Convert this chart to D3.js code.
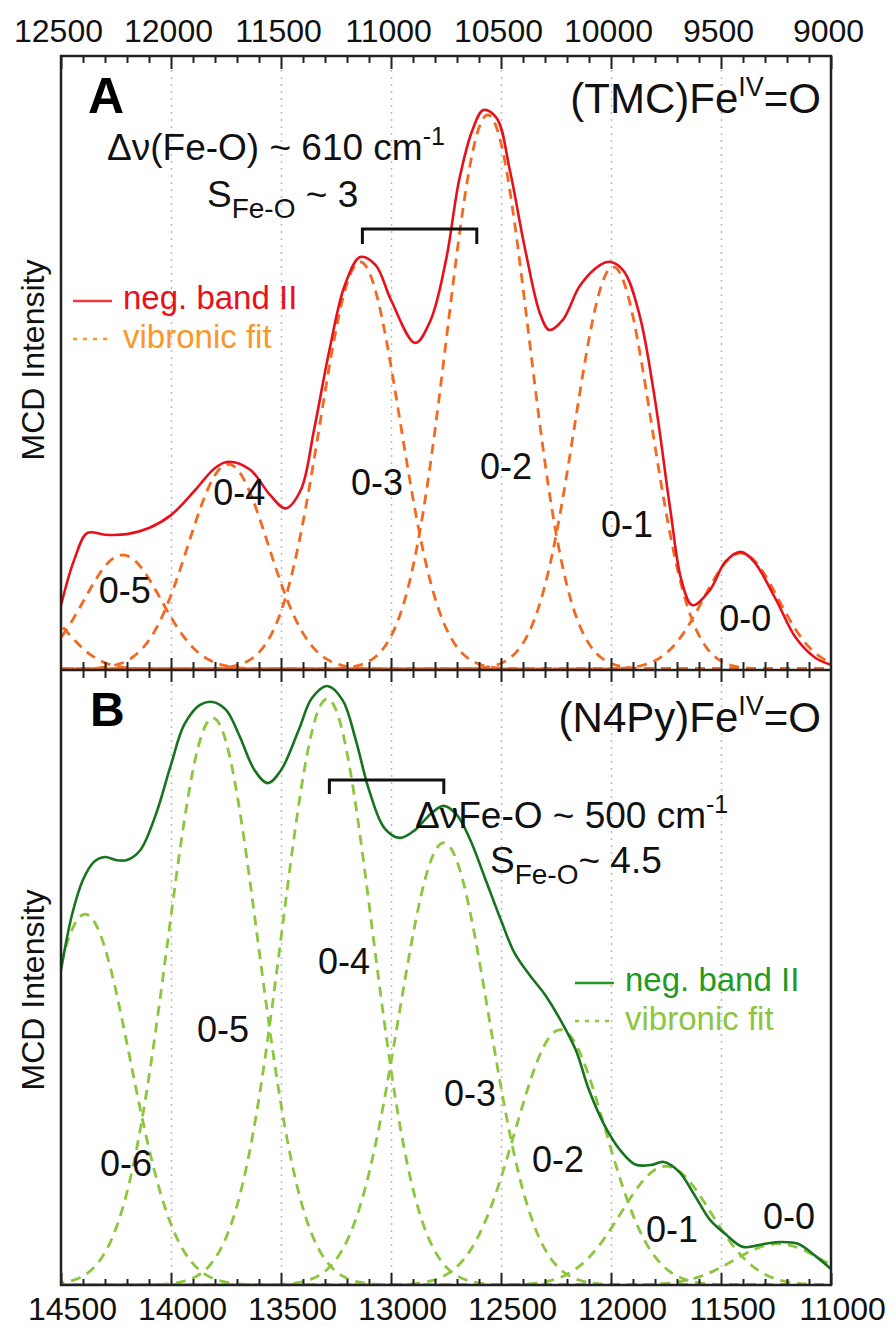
<!DOCTYPE html>
<html lang="en">
<head>
<meta charset="utf-8">
<title>MCD band II vibronic fits</title>
<style>
  body { margin: 0; background: #fff; }
  svg { display: block; font-family: "Liberation Sans", Arial, sans-serif; }
  .grid line { stroke: #bdbdbd; stroke-width: 1.5; stroke-dasharray: 2,5; }
  .grid path, .ticks path { display: none; }
  .ticks line { stroke: #222; stroke-width: 2; }
  .ticks text { font-size: 32px; fill: #111; font-family: "Liberation Sans", Arial, sans-serif; }
  .frame { fill: none; stroke: #222; stroke-width: 2.5; }
  .peak { font-size: 36px; fill: #111; text-anchor: middle; }
  .note { font-size: 37px; fill: #111; }
  .ylab { font-size: 32px; fill: #111; text-anchor: middle; }
  .legend { font-size: 33px; }
</style>
<script src="https://cdn.jsdelivr.net/npm/d3@7"></script>
</head>
<body>
<div id="chart"></div>
<script>

// ---- panel A : (TMC)Fe(IV)=O, negative band II ----
var aWavenumber = [12500, 12440, 12380, 12300, 12200, 12100, 12000, 11890, 11800, 11740,
                   11640, 11550, 11480, 11410, 11350, 11280, 11210, 11140, 11070, 11000,
                   10890, 10820, 10750, 10690, 10630, 10580, 10520, 10460, 10390, 10320,
                   10280, 10220, 10140, 10050, 10000, 9940, 9870, 9800, 9730, 9680,
                   9630, 9550, 9480, 9410, 9350, 9250, 9160, 9070, 9000];
var aBand = [10.4, 17.8, 22.2, 21.9, 22.0, 23.0, 25.1, 29.2, 32.8, 33.8,
             32.5, 28.4, 26.2, 29.2, 39.0, 52.0, 62.6, 67.2, 65.9, 60.2,
             53.2, 56.9, 66.7, 79.8, 87.9, 91.2, 89.9, 81.4, 68.4, 57.7,
             55.3, 56.9, 62.6, 65.9, 66.4, 64.8, 57.7, 43.9, 25.9, 14.5,
             10.4, 12.9, 17.5, 19.1, 17.5, 11.3, 5.1, 1.8, 0.7];

// vibronic fit components (gaussian centre, height, width in cm-1)
var aFitName   = ['0-6', '0-5', '0-4', '0-3', '0-2', '0-1', '0-0'];
var aFitCenter = [12620, 12220, 11740, 11140, 10560, 9990, 9410];
var aFitHeight = [9.8, 18.6, 33.4, 66.4, 90.4, 65.6, 18.9];
var aFitWidth  = [150, 175, 182, 182, 185, 175, 170];
var aLabels    = ['0-5', '0-4', '0-3', '0-2', '0-1', '0-0'];
var aTicks     = [12500, 12000, 11500, 11000, 10500, 10000, 9500, 9000];

// ---- panel B : (N4Py)Fe(IV)=O ----
var bWavenumber = [14500, 14450, 14400, 14350, 14300, 14250, 14200, 14140, 14070, 14000,
                   13940, 13870, 13810, 13750, 13690, 13620, 13560, 13500, 13420, 13360,
                   13290, 13220, 13160, 13100, 13030, 12960, 12890, 12820, 12760, 12700,
                   12640, 12570, 12500, 12440, 12370, 12300, 12230, 12160, 12100, 12030,
                   11960, 11890, 11820, 11760, 11690, 11620, 11550, 11480, 11400, 11300,
                   11230, 11150, 11070, 11000];
var bBand = [51.2, 60.2, 65.9, 68.8, 69.6, 69.1, 69.1, 70.7, 76.4, 84.6,
             91.1, 94.3, 94.8, 93.5, 89.4, 83.7, 81.6, 83.7, 90.2, 95.4,
             97.4, 95.1, 88.6, 80.5, 74.3, 72.7, 74.0, 76.6, 77.9, 76.4,
             72.4, 65.9, 59.3, 54.1, 50.4, 47.2, 43.1, 38.2, 31.7, 26.0,
             22.0, 19.6, 19.5, 20.0, 18.4, 14.6, 10.6, 8.3, 6.2, 6.7,
             7.0, 6.7, 4.7, 2.6];

var bFitName   = ['0-6', '0-5', '0-4', '0-3', '0-2', '0-1', '0-0'];
var bFitCenter = [14390, 13810, 13290, 12760, 12230, 11750, 11240];
var bFitHeight = [60.3, 92.2, 95.3, 71.9, 41.5, 19.3, 6.7];
var bFitWidth  = [205, 205, 205, 205, 205, 205, 200];
var bLabels    = ['0-6', '0-5', '0-4', '0-3', '0-2', '0-1', '0-0'];
var bTicks     = [14500, 14000, 13500, 13000, 12500, 12000, 11500, 11000];

// bracket ends (progression spacing marks)
var aBracket = [11130, 10610];
var bBracket = [13280, 12760];

// ---- layout ----
var W = 894, H = 1326;
var plotLeft = 61, plotRight = 831, plotTop = 56, plotMid = 670, plotBottom = 1285;

var svg = d3.select('#chart').append('svg')
    .attr('width', W)
    .attr('height', H);

var xA = d3.scaleLinear().domain([12500, 9000]).range([plotLeft, plotRight]);
var xB = d3.scaleLinear().domain([14500, 11000]).range([plotLeft, plotRight]);
var yA = d3.scaleLinear().domain([0, 100]).range([669, plotTop]);
var yB = d3.scaleLinear().domain([0, 100]).range([plotBottom, plotMid]);

// label anchor spots in data units [wavenumber, intensity]
var aLabelSpot = [[12210, 10.8], [11690, 26.8], [11064, 28.4], [10477, 31.0], [9927, 21.5], [9390, 6.2]];
var bLabelSpot = [[14205, 17.7], [13764, 39.5], [13214, 50.6], [12641, 29.1], [12241, 18.4], [11723, 7.0], [11191, 9.1]];

var defs = svg.append('defs');
defs.append('clipPath').attr('id', 'clipA').append('rect')
    .attr('x', plotLeft).attr('y', plotTop).attr('width', plotRight - plotLeft).attr('height', plotMid - plotTop);
defs.append('clipPath').attr('id', 'clipB').append('rect')
    .attr('x', plotLeft).attr('y', plotMid).attr('width', plotRight - plotLeft).attr('height', plotBottom - plotMid);

function minorTicks(majors) {
    var lo = d3.min(majors), hi = d3.max(majors);
    return d3.range(lo, hi + 1, 100).filter(function(v) { return v % 500 !== 0; });
}

// gridlines
function grid(x, ticks, y0, y1) {
    svg.append('g')
        .attr('class', 'grid')
        .attr('transform', 'translate(0,' + y0 + ')')
        .call(d3.axisBottom(x).tickValues(ticks.slice(1, -1)).tickSize(y1 - y0).tickFormat(''));
}
grid(xA, aTicks, plotTop, plotMid);
grid(xB, bTicks, plotMid, plotBottom);

// gaussian components of the vibronic fit
function component(x, c, h, w) {
    var d = x.domain();
    return d3.range(d[1] - 200, d[0] + 200, 5).map(function(v) {
        return [v, h * Math.exp(-(v - c) * (v - c) / (2 * w * w))];
    });
}

function drawFits(x, y, centers, heights, widths, color, clip) {
    var line = d3.line()
        .x(function(d) { return x(d[0]); })
        .y(function(d) { return y(d[1]); });
    svg.append('g').attr('clip-path', 'url(#' + clip + ')')
        .selectAll('path')
        .data(centers)
        .enter()
        .append('path')
        .attr('d', function(c, i) { return line(component(x, c, heights[i], widths[i])); })
        .attr('fill', 'none')
        .attr('stroke', color)
        .attr('stroke-width', 2.8)
        .attr('stroke-dasharray', '10,7');
}
drawFits(xA, yA, aFitCenter, aFitHeight, aFitWidth, '#f26a21', 'clipA');
drawFits(xB, yB, bFitCenter, bFitHeight, bFitWidth, '#8cc63e', 'clipB');

// measured bands
function drawBand(x, y, xs, ys, color, clip) {
    var line = d3.line()
        .x(function(d, i) { return x(xs[i]); })
        .y(function(d) { return y(d); })
        .curve(d3.curveCatmullRom.alpha(0.5));
    svg.append('path')
        .attr('clip-path', 'url(#' + clip + ')')
        .attr('d', line(ys))
        .attr('fill', 'none')
        .attr('stroke', color)
        .attr('stroke-width', 2.6);
}
drawBand(xA, yA, aWavenumber, aBand, '#e8101a', 'clipA');
drawBand(xB, yB, bWavenumber, bBand, '#17731f', 'clipB');

// frame and divider
svg.append('rect').attr('class', 'frame')
    .attr('x', plotLeft).attr('y', plotTop).attr('width', plotRight - plotLeft).attr('height', plotBottom - plotTop);
svg.append('line')
    .attr('x1', plotLeft).attr('x2', plotRight).attr('y1', plotMid).attr('y2', plotMid)
    .attr('stroke', '#222').attr('stroke-width', 2.5);

// top axis (panel A)
var topAxis = svg.append('g').attr('class', 'ticks').attr('transform', 'translate(0,' + plotTop + ')')
    .call(d3.axisTop(xA).tickValues(aTicks).tickSizeInner(-13).tickSizeOuter(0).tickPadding(14).tickFormat(d3.format('d')));
topAxis.selectAll('text').attr('x', -3);
svg.append('g').attr('class', 'ticks').attr('transform', 'translate(0,' + plotTop + ')')
    .call(d3.axisTop(xA).tickValues(minorTicks(aTicks)).tickSizeInner(-7).tickSizeOuter(0).tickFormat(''));

// ticks across the divider
svg.append('g').attr('class', 'ticks').attr('transform', 'translate(0,' + (plotMid - 12) + ')')
    .call(d3.axisBottom(xA).tickValues(aTicks.slice(1, -1)).tickSize(24).tickFormat(''));
svg.append('g').attr('class', 'ticks').attr('transform', 'translate(0,' + (plotMid - 8) + ')')
    .call(d3.axisBottom(xA).tickValues(minorTicks(aTicks)).tickSize(16).tickFormat(''));

// bottom axis (panel B)
var botAxis = svg.append('g').attr('class', 'ticks').attr('transform', 'translate(0,' + plotBottom + ')')
    .call(d3.axisBottom(xB).tickValues(bTicks).tickSizeInner(-12).tickSizeOuter(0).tickPadding(12).tickFormat(d3.format('d')));
botAxis.selectAll('text').attr('x', 11);
svg.append('g').attr('class', 'ticks').attr('transform', 'translate(0,' + plotBottom + ')')
    .call(d3.axisBottom(xB).tickValues(minorTicks(bTicks)).tickSizeInner(-6).tickSizeOuter(0).tickFormat(''));

// y labels
svg.append('text').attr('class', 'ylab')
    .attr('transform', 'translate(44,360) rotate(-90)').text('MCD Intensity');
svg.append('text').attr('class', 'ylab')
    .attr('transform', 'translate(44,990) rotate(-90)').text('MCD Intensity');

// peak labels
function peakLabels(x, y, names, spots) {
    svg.append('g').selectAll('text')
        .data(names)
        .enter()
        .append('text')
        .attr('class', 'peak')
        .attr('x', function(d, i) { return x(spots[i][0]); })
        .attr('y', function(d, i) { return y(spots[i][1]); })
        .text(function(d) { return d; });
}
peakLabels(xA, yA, aLabels, aLabelSpot);
peakLabels(xB, yB, bLabels, bLabelSpot);

// brackets
function bracket(x, ends, yy, drop) {
    svg.append('path')
        .attr('d', 'M' + x(ends[0]) + ',' + (yy + drop) + 'V' + yy + 'H' + x(ends[1]) + 'V' + (yy + drop))
        .attr('fill', 'none')
        .attr('stroke', '#111')
        .attr('stroke-width', 3);
}
bracket(xA, aBracket, 229, 15);
bracket(xB, bBracket, 780, 14);

// panel letters and compound names
svg.append('text').attr('x', 88).attr('y', 113)
    .style('font-size', '50px').style('font-weight', 'bold').text('A');
svg.append('text').attr('x', 90).attr('y', 726)
    .style('font-size', '48px').style('font-weight', 'bold').text('B');

function compound(name, yy) {
    var t = svg.append('text').attr('x', 821).attr('y', yy)
        .attr('text-anchor', 'end').style('font-size', '42px').attr('fill', '#111');
    t.append('tspan').text(name);
    t.append('tspan').attr('dy', -17).style('font-size', '27px').text('IV');
    t.append('tspan').attr('dy', 17).text('=O');
}
compound('(TMC)Fe', 113);
compound('(N4Py)Fe', 732);

// spacing / Huang-Rhys notes
function note(xx, yy, head, num) {
    var t = svg.append('text').attr('class', 'note').attr('x', xx).attr('y', yy);
    t.append('tspan').text(head + num + ' cm');
    t.append('tspan').attr('dy', -15).style('font-size', '25px').text('-1');
}
function huang(xx, yy, gap, val) {
    var t = svg.append('text').attr('class', 'note').attr('x', xx).attr('y', yy);
    t.append('tspan').text('S');
    t.append('tspan').attr('dy', 11).style('font-size', '28px').text('Fe-O');
    t.append('tspan').attr('dy', -11).text(gap + '~ ' + val);
}
note(107, 160, '\u0394\u03bd(Fe-O) ~ ', '610');
huang(207, 207, ' ', '3');
note(415, 828, '\u0394\u03bdFe-O ~ ', '500');
huang(490, 873, '', '4.5');

// legends
function legend(xx, yy, solidColor, textColor, fitColor) {
    svg.append('line').attr('x1', xx).attr('x2', xx + 39).attr('y1', yy - 8).attr('y2', yy - 8)
        .attr('stroke', solidColor).attr('stroke-width', 2.5);
    svg.append('text').attr('class', 'legend').attr('x', xx + 50).attr('y', yy)
        .attr('fill', textColor).text('neg. band II');
    svg.append('line').attr('x1', xx).attr('x2', xx + 39).attr('y1', yy + 30).attr('y2', yy + 30)
        .attr('stroke', fitColor).attr('stroke-width', 2.5).attr('stroke-dasharray', '4,6');
    svg.append('text').attr('class', 'legend').attr('x', xx + 50).attr('y', yy + 39)
        .attr('fill', fitColor).text('vibronic fit');
}
legend(73, 309, '#f0383e', '#e8101a', '#f7982a');
legend(575, 991, '#229a22', '#229a22', '#8cc63e');

</script>
</body>
</html>
